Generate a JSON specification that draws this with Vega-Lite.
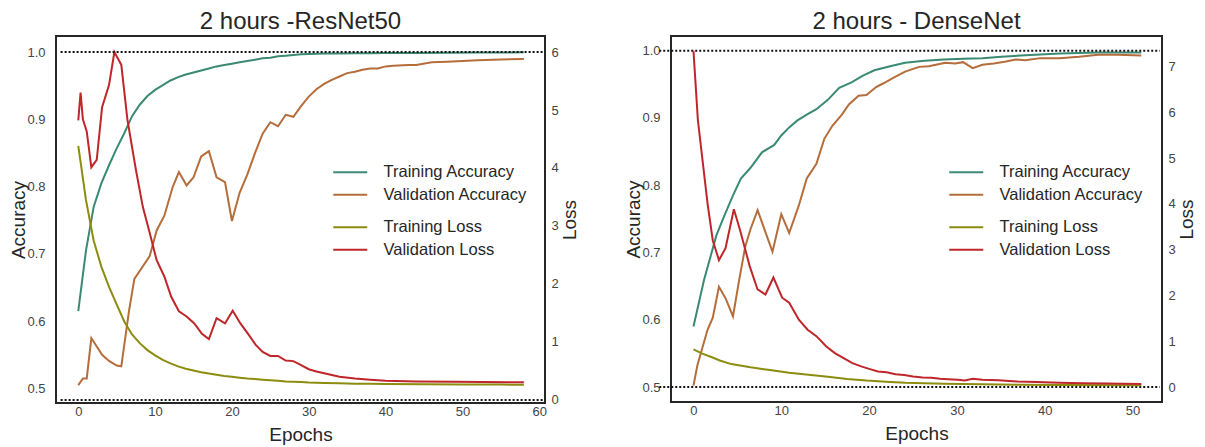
{
  "$schema": "https://vega.github.io/schema/vega-lite/v6.json",
  "background": "white",
  "padding": {"left": 8, "top": 9, "right": 0, "bottom": 0},
  "bounds": "flush",
  "spacing": 126,
  "config": {
    "font": "Liberation Sans",
    "view": {"stroke": "#262626", "strokeWidth": 2},
    "axis": {"ticks": false, "domain": false, "grid": false, "labelFont": "Liberation Sans", "labelFontSize": 13, "labelColor": "#444444", "titleFont": "Liberation Sans", "titleFontSize": 19, "titleFontWeight": "normal", "titleColor": "#262626"},
    "title": {"font": "Liberation Sans", "fontSize": 24, "fontWeight": "normal", "color": "#262626", "anchor": "middle", "offset": 2, "baseline": "alphabetic"},
    "legend": {"orient": "none", "title": null, "symbolType": "M-3.4,0H3.4", "symbolSize": 100, "symbolStrokeWidth": 2, "labelOffset": 25, "labelFontSize": 16.5, "labelFont": "Liberation Sans", "labelColor": "#262626", "rowPadding": 5.5, "padding": 0, "labelLimit": 300}
  },
  "datasets": {
    "resnet": [
      {"epoch": 0, "series": "Training Accuracy", "metric": "acc", "value": 0.615},
      {"epoch": 1, "series": "Training Accuracy", "metric": "acc", "value": 0.705},
      {"epoch": 2, "series": "Training Accuracy", "metric": "acc", "value": 0.77},
      {"epoch": 3, "series": "Training Accuracy", "metric": "acc", "value": 0.805},
      {"epoch": 4, "series": "Training Accuracy", "metric": "acc", "value": 0.832},
      {"epoch": 5, "series": "Training Accuracy", "metric": "acc", "value": 0.857},
      {"epoch": 6, "series": "Training Accuracy", "metric": "acc", "value": 0.88},
      {"epoch": 7, "series": "Training Accuracy", "metric": "acc", "value": 0.905},
      {"epoch": 8, "series": "Training Accuracy", "metric": "acc", "value": 0.922},
      {"epoch": 9, "series": "Training Accuracy", "metric": "acc", "value": 0.935},
      {"epoch": 10, "series": "Training Accuracy", "metric": "acc", "value": 0.944},
      {"epoch": 11, "series": "Training Accuracy", "metric": "acc", "value": 0.951},
      {"epoch": 12, "series": "Training Accuracy", "metric": "acc", "value": 0.958},
      {"epoch": 13, "series": "Training Accuracy", "metric": "acc", "value": 0.963},
      {"epoch": 14, "series": "Training Accuracy", "metric": "acc", "value": 0.967},
      {"epoch": 15, "series": "Training Accuracy", "metric": "acc", "value": 0.97},
      {"epoch": 16, "series": "Training Accuracy", "metric": "acc", "value": 0.973},
      {"epoch": 17, "series": "Training Accuracy", "metric": "acc", "value": 0.976},
      {"epoch": 18, "series": "Training Accuracy", "metric": "acc", "value": 0.979},
      {"epoch": 19, "series": "Training Accuracy", "metric": "acc", "value": 0.981},
      {"epoch": 20, "series": "Training Accuracy", "metric": "acc", "value": 0.983},
      {"epoch": 21, "series": "Training Accuracy", "metric": "acc", "value": 0.985},
      {"epoch": 22, "series": "Training Accuracy", "metric": "acc", "value": 0.987},
      {"epoch": 23, "series": "Training Accuracy", "metric": "acc", "value": 0.989},
      {"epoch": 24, "series": "Training Accuracy", "metric": "acc", "value": 0.991},
      {"epoch": 25, "series": "Training Accuracy", "metric": "acc", "value": 0.992},
      {"epoch": 26, "series": "Training Accuracy", "metric": "acc", "value": 0.994},
      {"epoch": 27, "series": "Training Accuracy", "metric": "acc", "value": 0.995},
      {"epoch": 28, "series": "Training Accuracy", "metric": "acc", "value": 0.996},
      {"epoch": 29, "series": "Training Accuracy", "metric": "acc", "value": 0.997},
      {"epoch": 30, "series": "Training Accuracy", "metric": "acc", "value": 0.9975},
      {"epoch": 32, "series": "Training Accuracy", "metric": "acc", "value": 0.998},
      {"epoch": 34, "series": "Training Accuracy", "metric": "acc", "value": 0.998},
      {"epoch": 36, "series": "Training Accuracy", "metric": "acc", "value": 0.9985},
      {"epoch": 38, "series": "Training Accuracy", "metric": "acc", "value": 0.9985},
      {"epoch": 40, "series": "Training Accuracy", "metric": "acc", "value": 0.999},
      {"epoch": 44, "series": "Training Accuracy", "metric": "acc", "value": 0.999},
      {"epoch": 48, "series": "Training Accuracy", "metric": "acc", "value": 0.9992},
      {"epoch": 52, "series": "Training Accuracy", "metric": "acc", "value": 0.9995},
      {"epoch": 56, "series": "Training Accuracy", "metric": "acc", "value": 0.9998},
      {"epoch": 58, "series": "Training Accuracy", "metric": "acc", "value": 1.0},

      {"epoch": 0, "series": "Validation Accuracy", "metric": "acc", "value": 0.505},
      {"epoch": 0.6, "series": "Validation Accuracy", "metric": "acc", "value": 0.515},
      {"epoch": 1.1, "series": "Validation Accuracy", "metric": "acc", "value": 0.515},
      {"epoch": 1.7, "series": "Validation Accuracy", "metric": "acc", "value": 0.575},
      {"epoch": 3.1, "series": "Validation Accuracy", "metric": "acc", "value": 0.55},
      {"epoch": 4.0, "series": "Validation Accuracy", "metric": "acc", "value": 0.541},
      {"epoch": 5.0, "series": "Validation Accuracy", "metric": "acc", "value": 0.534},
      {"epoch": 5.6, "series": "Validation Accuracy", "metric": "acc", "value": 0.533},
      {"epoch": 6.6, "series": "Validation Accuracy", "metric": "acc", "value": 0.615},
      {"epoch": 7.3, "series": "Validation Accuracy", "metric": "acc", "value": 0.663},
      {"epoch": 8.3, "series": "Validation Accuracy", "metric": "acc", "value": 0.68},
      {"epoch": 9.3, "series": "Validation Accuracy", "metric": "acc", "value": 0.697},
      {"epoch": 10.2, "series": "Validation Accuracy", "metric": "acc", "value": 0.735},
      {"epoch": 11.2, "series": "Validation Accuracy", "metric": "acc", "value": 0.757},
      {"epoch": 12.3, "series": "Validation Accuracy", "metric": "acc", "value": 0.8},
      {"epoch": 13.1, "series": "Validation Accuracy", "metric": "acc", "value": 0.822},
      {"epoch": 14.1, "series": "Validation Accuracy", "metric": "acc", "value": 0.802},
      {"epoch": 15, "series": "Validation Accuracy", "metric": "acc", "value": 0.814},
      {"epoch": 16, "series": "Validation Accuracy", "metric": "acc", "value": 0.845},
      {"epoch": 17, "series": "Validation Accuracy", "metric": "acc", "value": 0.853},
      {"epoch": 18, "series": "Validation Accuracy", "metric": "acc", "value": 0.814},
      {"epoch": 19.1, "series": "Validation Accuracy", "metric": "acc", "value": 0.807},
      {"epoch": 20, "series": "Validation Accuracy", "metric": "acc", "value": 0.749},
      {"epoch": 21, "series": "Validation Accuracy", "metric": "acc", "value": 0.791},
      {"epoch": 22, "series": "Validation Accuracy", "metric": "acc", "value": 0.818},
      {"epoch": 23, "series": "Validation Accuracy", "metric": "acc", "value": 0.85},
      {"epoch": 24, "series": "Validation Accuracy", "metric": "acc", "value": 0.879},
      {"epoch": 25, "series": "Validation Accuracy", "metric": "acc", "value": 0.896},
      {"epoch": 26, "series": "Validation Accuracy", "metric": "acc", "value": 0.89},
      {"epoch": 27, "series": "Validation Accuracy", "metric": "acc", "value": 0.907},
      {"epoch": 28, "series": "Validation Accuracy", "metric": "acc", "value": 0.904},
      {"epoch": 29, "series": "Validation Accuracy", "metric": "acc", "value": 0.92},
      {"epoch": 30, "series": "Validation Accuracy", "metric": "acc", "value": 0.934},
      {"epoch": 31, "series": "Validation Accuracy", "metric": "acc", "value": 0.945},
      {"epoch": 32, "series": "Validation Accuracy", "metric": "acc", "value": 0.953},
      {"epoch": 33, "series": "Validation Accuracy", "metric": "acc", "value": 0.959},
      {"epoch": 34, "series": "Validation Accuracy", "metric": "acc", "value": 0.964},
      {"epoch": 35, "series": "Validation Accuracy", "metric": "acc", "value": 0.969},
      {"epoch": 36, "series": "Validation Accuracy", "metric": "acc", "value": 0.971},
      {"epoch": 37, "series": "Validation Accuracy", "metric": "acc", "value": 0.974},
      {"epoch": 38, "series": "Validation Accuracy", "metric": "acc", "value": 0.976},
      {"epoch": 39, "series": "Validation Accuracy", "metric": "acc", "value": 0.976},
      {"epoch": 40, "series": "Validation Accuracy", "metric": "acc", "value": 0.979},
      {"epoch": 41, "series": "Validation Accuracy", "metric": "acc", "value": 0.98},
      {"epoch": 43, "series": "Validation Accuracy", "metric": "acc", "value": 0.981},
      {"epoch": 44, "series": "Validation Accuracy", "metric": "acc", "value": 0.981},
      {"epoch": 46, "series": "Validation Accuracy", "metric": "acc", "value": 0.985},
      {"epoch": 48, "series": "Validation Accuracy", "metric": "acc", "value": 0.986},
      {"epoch": 50, "series": "Validation Accuracy", "metric": "acc", "value": 0.987},
      {"epoch": 52, "series": "Validation Accuracy", "metric": "acc", "value": 0.988},
      {"epoch": 54, "series": "Validation Accuracy", "metric": "acc", "value": 0.989},
      {"epoch": 58, "series": "Validation Accuracy", "metric": "acc", "value": 0.99},

      {"epoch": 0, "series": "Training Loss", "metric": "loss", "value": 4.38},
      {"epoch": 1, "series": "Training Loss", "metric": "loss", "value": 3.45},
      {"epoch": 2, "series": "Training Loss", "metric": "loss", "value": 2.75},
      {"epoch": 3, "series": "Training Loss", "metric": "loss", "value": 2.3},
      {"epoch": 4, "series": "Training Loss", "metric": "loss", "value": 1.95},
      {"epoch": 5, "series": "Training Loss", "metric": "loss", "value": 1.65},
      {"epoch": 6, "series": "Training Loss", "metric": "loss", "value": 1.35},
      {"epoch": 7, "series": "Training Loss", "metric": "loss", "value": 1.13},
      {"epoch": 8, "series": "Training Loss", "metric": "loss", "value": 0.98},
      {"epoch": 9, "series": "Training Loss", "metric": "loss", "value": 0.86},
      {"epoch": 10, "series": "Training Loss", "metric": "loss", "value": 0.77},
      {"epoch": 11, "series": "Training Loss", "metric": "loss", "value": 0.69},
      {"epoch": 12, "series": "Training Loss", "metric": "loss", "value": 0.63},
      {"epoch": 13, "series": "Training Loss", "metric": "loss", "value": 0.58},
      {"epoch": 14, "series": "Training Loss", "metric": "loss", "value": 0.54},
      {"epoch": 15, "series": "Training Loss", "metric": "loss", "value": 0.51},
      {"epoch": 16, "series": "Training Loss", "metric": "loss", "value": 0.48},
      {"epoch": 17, "series": "Training Loss", "metric": "loss", "value": 0.455},
      {"epoch": 18, "series": "Training Loss", "metric": "loss", "value": 0.435},
      {"epoch": 19, "series": "Training Loss", "metric": "loss", "value": 0.415},
      {"epoch": 20, "series": "Training Loss", "metric": "loss", "value": 0.4},
      {"epoch": 21, "series": "Training Loss", "metric": "loss", "value": 0.385},
      {"epoch": 22, "series": "Training Loss", "metric": "loss", "value": 0.37},
      {"epoch": 23, "series": "Training Loss", "metric": "loss", "value": 0.36},
      {"epoch": 24, "series": "Training Loss", "metric": "loss", "value": 0.35},
      {"epoch": 25, "series": "Training Loss", "metric": "loss", "value": 0.34},
      {"epoch": 26, "series": "Training Loss", "metric": "loss", "value": 0.33},
      {"epoch": 27, "series": "Training Loss", "metric": "loss", "value": 0.32},
      {"epoch": 28, "series": "Training Loss", "metric": "loss", "value": 0.315},
      {"epoch": 29, "series": "Training Loss", "metric": "loss", "value": 0.308},
      {"epoch": 30, "series": "Training Loss", "metric": "loss", "value": 0.3},
      {"epoch": 32, "series": "Training Loss", "metric": "loss", "value": 0.293},
      {"epoch": 34, "series": "Training Loss", "metric": "loss", "value": 0.287},
      {"epoch": 36, "series": "Training Loss", "metric": "loss", "value": 0.282},
      {"epoch": 38, "series": "Training Loss", "metric": "loss", "value": 0.278},
      {"epoch": 40, "series": "Training Loss", "metric": "loss", "value": 0.275},
      {"epoch": 45, "series": "Training Loss", "metric": "loss", "value": 0.27},
      {"epoch": 50, "series": "Training Loss", "metric": "loss", "value": 0.267},
      {"epoch": 55, "series": "Training Loss", "metric": "loss", "value": 0.265},
      {"epoch": 58, "series": "Training Loss", "metric": "loss", "value": 0.264},

      {"epoch": 0, "series": "Validation Loss", "metric": "loss", "value": 4.82},
      {"epoch": 0.3, "series": "Validation Loss", "metric": "loss", "value": 5.3},
      {"epoch": 0.6, "series": "Validation Loss", "metric": "loss", "value": 4.84},
      {"epoch": 1.1, "series": "Validation Loss", "metric": "loss", "value": 4.63},
      {"epoch": 1.7, "series": "Validation Loss", "metric": "loss", "value": 4.01},
      {"epoch": 2.4, "series": "Validation Loss", "metric": "loss", "value": 4.14},
      {"epoch": 3.1, "series": "Validation Loss", "metric": "loss", "value": 5.05},
      {"epoch": 4.0, "series": "Validation Loss", "metric": "loss", "value": 5.43},
      {"epoch": 4.7, "series": "Validation Loss", "metric": "loss", "value": 6.0},
      {"epoch": 5.6, "series": "Validation Loss", "metric": "loss", "value": 5.78},
      {"epoch": 6.4, "series": "Validation Loss", "metric": "loss", "value": 4.83},
      {"epoch": 7.5, "series": "Validation Loss", "metric": "loss", "value": 3.97},
      {"epoch": 8.4, "series": "Validation Loss", "metric": "loss", "value": 3.33},
      {"epoch": 9.3, "series": "Validation Loss", "metric": "loss", "value": 2.88},
      {"epoch": 10.2, "series": "Validation Loss", "metric": "loss", "value": 2.41},
      {"epoch": 11.2, "series": "Validation Loss", "metric": "loss", "value": 2.13},
      {"epoch": 12.1, "series": "Validation Loss", "metric": "loss", "value": 1.78},
      {"epoch": 13.1, "series": "Validation Loss", "metric": "loss", "value": 1.53},
      {"epoch": 14.1, "series": "Validation Loss", "metric": "loss", "value": 1.44},
      {"epoch": 15.1, "series": "Validation Loss", "metric": "loss", "value": 1.32},
      {"epoch": 16.1, "series": "Validation Loss", "metric": "loss", "value": 1.14},
      {"epoch": 17, "series": "Validation Loss", "metric": "loss", "value": 1.05},
      {"epoch": 18, "series": "Validation Loss", "metric": "loss", "value": 1.41},
      {"epoch": 19.1, "series": "Validation Loss", "metric": "loss", "value": 1.32},
      {"epoch": 20.1, "series": "Validation Loss", "metric": "loss", "value": 1.54},
      {"epoch": 21.1, "series": "Validation Loss", "metric": "loss", "value": 1.32},
      {"epoch": 22.1, "series": "Validation Loss", "metric": "loss", "value": 1.14},
      {"epoch": 23.1, "series": "Validation Loss", "metric": "loss", "value": 0.95},
      {"epoch": 24, "series": "Validation Loss", "metric": "loss", "value": 0.83},
      {"epoch": 25, "series": "Validation Loss", "metric": "loss", "value": 0.76},
      {"epoch": 26, "series": "Validation Loss", "metric": "loss", "value": 0.76},
      {"epoch": 27, "series": "Validation Loss", "metric": "loss", "value": 0.68},
      {"epoch": 28, "series": "Validation Loss", "metric": "loss", "value": 0.67},
      {"epoch": 29, "series": "Validation Loss", "metric": "loss", "value": 0.6},
      {"epoch": 30, "series": "Validation Loss", "metric": "loss", "value": 0.53},
      {"epoch": 31, "series": "Validation Loss", "metric": "loss", "value": 0.49},
      {"epoch": 32, "series": "Validation Loss", "metric": "loss", "value": 0.46},
      {"epoch": 33, "series": "Validation Loss", "metric": "loss", "value": 0.43},
      {"epoch": 34, "series": "Validation Loss", "metric": "loss", "value": 0.4},
      {"epoch": 36, "series": "Validation Loss", "metric": "loss", "value": 0.37},
      {"epoch": 38, "series": "Validation Loss", "metric": "loss", "value": 0.35},
      {"epoch": 40, "series": "Validation Loss", "metric": "loss", "value": 0.33},
      {"epoch": 44, "series": "Validation Loss", "metric": "loss", "value": 0.32},
      {"epoch": 49, "series": "Validation Loss", "metric": "loss", "value": 0.315},
      {"epoch": 58, "series": "Validation Loss", "metric": "loss", "value": 0.305}
    ],
    "densenet": [
      {"epoch": 0, "series": "Training Accuracy", "metric": "acc", "value": 0.59},
      {"epoch": 1.2, "series": "Training Accuracy", "metric": "acc", "value": 0.659},
      {"epoch": 2.6, "series": "Training Accuracy", "metric": "acc", "value": 0.725},
      {"epoch": 3.4, "series": "Training Accuracy", "metric": "acc", "value": 0.751},
      {"epoch": 4.5, "series": "Training Accuracy", "metric": "acc", "value": 0.785},
      {"epoch": 5.4, "series": "Training Accuracy", "metric": "acc", "value": 0.81},
      {"epoch": 6.5, "series": "Training Accuracy", "metric": "acc", "value": 0.826},
      {"epoch": 7.8, "series": "Training Accuracy", "metric": "acc", "value": 0.849},
      {"epoch": 9.2, "series": "Training Accuracy", "metric": "acc", "value": 0.86},
      {"epoch": 10, "series": "Training Accuracy", "metric": "acc", "value": 0.874},
      {"epoch": 10.9, "series": "Training Accuracy", "metric": "acc", "value": 0.886},
      {"epoch": 11.8, "series": "Training Accuracy", "metric": "acc", "value": 0.896},
      {"epoch": 12.9, "series": "Training Accuracy", "metric": "acc", "value": 0.905},
      {"epoch": 14, "series": "Training Accuracy", "metric": "acc", "value": 0.913},
      {"epoch": 15.3, "series": "Training Accuracy", "metric": "acc", "value": 0.927},
      {"epoch": 16.6, "series": "Training Accuracy", "metric": "acc", "value": 0.945},
      {"epoch": 18, "series": "Training Accuracy", "metric": "acc", "value": 0.953},
      {"epoch": 19.3, "series": "Training Accuracy", "metric": "acc", "value": 0.963},
      {"epoch": 20.6, "series": "Training Accuracy", "metric": "acc", "value": 0.971},
      {"epoch": 22.4, "series": "Training Accuracy", "metric": "acc", "value": 0.977},
      {"epoch": 24.1, "series": "Training Accuracy", "metric": "acc", "value": 0.982},
      {"epoch": 26.3, "series": "Training Accuracy", "metric": "acc", "value": 0.985},
      {"epoch": 28.5, "series": "Training Accuracy", "metric": "acc", "value": 0.987},
      {"epoch": 30.7, "series": "Training Accuracy", "metric": "acc", "value": 0.988},
      {"epoch": 32.9, "series": "Training Accuracy", "metric": "acc", "value": 0.989},
      {"epoch": 35.1, "series": "Training Accuracy", "metric": "acc", "value": 0.991},
      {"epoch": 37.3, "series": "Training Accuracy", "metric": "acc", "value": 0.993},
      {"epoch": 41.7, "series": "Training Accuracy", "metric": "acc", "value": 0.996},
      {"epoch": 46.1, "series": "Training Accuracy", "metric": "acc", "value": 0.9975},
      {"epoch": 51, "series": "Training Accuracy", "metric": "acc", "value": 0.9975},

      {"epoch": 0, "series": "Validation Accuracy", "metric": "acc", "value": 0.502},
      {"epoch": 0.44, "series": "Validation Accuracy", "metric": "acc", "value": 0.532},
      {"epoch": 1.6, "series": "Validation Accuracy", "metric": "acc", "value": 0.585},
      {"epoch": 2.2, "series": "Validation Accuracy", "metric": "acc", "value": 0.603},
      {"epoch": 2.9, "series": "Validation Accuracy", "metric": "acc", "value": 0.649},
      {"epoch": 3.65, "series": "Validation Accuracy", "metric": "acc", "value": 0.632},
      {"epoch": 4.5, "series": "Validation Accuracy", "metric": "acc", "value": 0.605},
      {"epoch": 5.2, "series": "Validation Accuracy", "metric": "acc", "value": 0.659},
      {"epoch": 5.9, "series": "Validation Accuracy", "metric": "acc", "value": 0.709},
      {"epoch": 6.5, "series": "Validation Accuracy", "metric": "acc", "value": 0.735},
      {"epoch": 7.3, "series": "Validation Accuracy", "metric": "acc", "value": 0.763},
      {"epoch": 9.0, "series": "Validation Accuracy", "metric": "acc", "value": 0.701},
      {"epoch": 10.0, "series": "Validation Accuracy", "metric": "acc", "value": 0.757},
      {"epoch": 10.9, "series": "Validation Accuracy", "metric": "acc", "value": 0.729},
      {"epoch": 12, "series": "Validation Accuracy", "metric": "acc", "value": 0.77},
      {"epoch": 12.9, "series": "Validation Accuracy", "metric": "acc", "value": 0.81},
      {"epoch": 14, "series": "Validation Accuracy", "metric": "acc", "value": 0.832},
      {"epoch": 14.9, "series": "Validation Accuracy", "metric": "acc", "value": 0.869},
      {"epoch": 15.8, "series": "Validation Accuracy", "metric": "acc", "value": 0.888},
      {"epoch": 16.9, "series": "Validation Accuracy", "metric": "acc", "value": 0.905},
      {"epoch": 17.7, "series": "Validation Accuracy", "metric": "acc", "value": 0.92},
      {"epoch": 18.8, "series": "Validation Accuracy", "metric": "acc", "value": 0.933},
      {"epoch": 19.7, "series": "Validation Accuracy", "metric": "acc", "value": 0.934},
      {"epoch": 20.8, "series": "Validation Accuracy", "metric": "acc", "value": 0.946},
      {"epoch": 21.7, "series": "Validation Accuracy", "metric": "acc", "value": 0.952},
      {"epoch": 22.8, "series": "Validation Accuracy", "metric": "acc", "value": 0.96},
      {"epoch": 24.1, "series": "Validation Accuracy", "metric": "acc", "value": 0.969},
      {"epoch": 25.7, "series": "Validation Accuracy", "metric": "acc", "value": 0.976},
      {"epoch": 26.8, "series": "Validation Accuracy", "metric": "acc", "value": 0.977},
      {"epoch": 27.6, "series": "Validation Accuracy", "metric": "acc", "value": 0.979},
      {"epoch": 28.7, "series": "Validation Accuracy", "metric": "acc", "value": 0.982},
      {"epoch": 29.8, "series": "Validation Accuracy", "metric": "acc", "value": 0.981},
      {"epoch": 30.7, "series": "Validation Accuracy", "metric": "acc", "value": 0.983},
      {"epoch": 31.8, "series": "Validation Accuracy", "metric": "acc", "value": 0.974},
      {"epoch": 32.9, "series": "Validation Accuracy", "metric": "acc", "value": 0.979},
      {"epoch": 34.2, "series": "Validation Accuracy", "metric": "acc", "value": 0.981},
      {"epoch": 35.6, "series": "Validation Accuracy", "metric": "acc", "value": 0.984},
      {"epoch": 36.7, "series": "Validation Accuracy", "metric": "acc", "value": 0.987},
      {"epoch": 37.8, "series": "Validation Accuracy", "metric": "acc", "value": 0.986},
      {"epoch": 39.5, "series": "Validation Accuracy", "metric": "acc", "value": 0.989},
      {"epoch": 41.7, "series": "Validation Accuracy", "metric": "acc", "value": 0.989},
      {"epoch": 43.9, "series": "Validation Accuracy", "metric": "acc", "value": 0.991},
      {"epoch": 46.1, "series": "Validation Accuracy", "metric": "acc", "value": 0.994},
      {"epoch": 48.3, "series": "Validation Accuracy", "metric": "acc", "value": 0.994},
      {"epoch": 51, "series": "Validation Accuracy", "metric": "acc", "value": 0.993},

      {"epoch": 0, "series": "Training Loss", "metric": "loss", "value": 0.82},
      {"epoch": 1, "series": "Training Loss", "metric": "loss", "value": 0.73},
      {"epoch": 2.1, "series": "Training Loss", "metric": "loss", "value": 0.65},
      {"epoch": 3, "series": "Training Loss", "metric": "loss", "value": 0.58},
      {"epoch": 4.3, "series": "Training Loss", "metric": "loss", "value": 0.5},
      {"epoch": 6.5, "series": "Training Loss", "metric": "loss", "value": 0.43},
      {"epoch": 8.7, "series": "Training Loss", "metric": "loss", "value": 0.37},
      {"epoch": 10.9, "series": "Training Loss", "metric": "loss", "value": 0.31},
      {"epoch": 13.1, "series": "Training Loss", "metric": "loss", "value": 0.27},
      {"epoch": 15.3, "series": "Training Loss", "metric": "loss", "value": 0.225},
      {"epoch": 17.5, "series": "Training Loss", "metric": "loss", "value": 0.175},
      {"epoch": 19.7, "series": "Training Loss", "metric": "loss", "value": 0.14},
      {"epoch": 21.9, "series": "Training Loss", "metric": "loss", "value": 0.116},
      {"epoch": 24.1, "series": "Training Loss", "metric": "loss", "value": 0.095},
      {"epoch": 28.5, "series": "Training Loss", "metric": "loss", "value": 0.073},
      {"epoch": 32.9, "series": "Training Loss", "metric": "loss", "value": 0.058},
      {"epoch": 37.3, "series": "Training Loss", "metric": "loss", "value": 0.05},
      {"epoch": 41.7, "series": "Training Loss", "metric": "loss", "value": 0.044},
      {"epoch": 51, "series": "Training Loss", "metric": "loss", "value": 0.036},

      {"epoch": 0, "series": "Validation Loss", "metric": "loss", "value": 7.34},
      {"epoch": 0.5, "series": "Validation Loss", "metric": "loss", "value": 5.83},
      {"epoch": 1.6, "series": "Validation Loss", "metric": "loss", "value": 4.01},
      {"epoch": 2.2, "series": "Validation Loss", "metric": "loss", "value": 3.2},
      {"epoch": 2.9, "series": "Validation Loss", "metric": "loss", "value": 2.77},
      {"epoch": 3.65, "series": "Validation Loss", "metric": "loss", "value": 3.03},
      {"epoch": 4.6, "series": "Validation Loss", "metric": "loss", "value": 3.88},
      {"epoch": 5.3, "series": "Validation Loss", "metric": "loss", "value": 3.43},
      {"epoch": 6.4, "series": "Validation Loss", "metric": "loss", "value": 2.64},
      {"epoch": 7.3, "series": "Validation Loss", "metric": "loss", "value": 2.13},
      {"epoch": 8.2, "series": "Validation Loss", "metric": "loss", "value": 2.02},
      {"epoch": 9.1, "series": "Validation Loss", "metric": "loss", "value": 2.39},
      {"epoch": 10.1, "series": "Validation Loss", "metric": "loss", "value": 1.95},
      {"epoch": 10.9, "series": "Validation Loss", "metric": "loss", "value": 1.84},
      {"epoch": 12, "series": "Validation Loss", "metric": "loss", "value": 1.47},
      {"epoch": 13, "series": "Validation Loss", "metric": "loss", "value": 1.25},
      {"epoch": 14, "series": "Validation Loss", "metric": "loss", "value": 1.11},
      {"epoch": 15.1, "series": "Validation Loss", "metric": "loss", "value": 0.89},
      {"epoch": 16.1, "series": "Validation Loss", "metric": "loss", "value": 0.74},
      {"epoch": 17.1, "series": "Validation Loss", "metric": "loss", "value": 0.63},
      {"epoch": 18.1, "series": "Validation Loss", "metric": "loss", "value": 0.52},
      {"epoch": 19.1, "series": "Validation Loss", "metric": "loss", "value": 0.45},
      {"epoch": 20.1, "series": "Validation Loss", "metric": "loss", "value": 0.39},
      {"epoch": 21, "series": "Validation Loss", "metric": "loss", "value": 0.34},
      {"epoch": 22, "series": "Validation Loss", "metric": "loss", "value": 0.32},
      {"epoch": 23, "series": "Validation Loss", "metric": "loss", "value": 0.28},
      {"epoch": 24, "series": "Validation Loss", "metric": "loss", "value": 0.26},
      {"epoch": 25, "series": "Validation Loss", "metric": "loss", "value": 0.23},
      {"epoch": 26.1, "series": "Validation Loss", "metric": "loss", "value": 0.21},
      {"epoch": 27.1, "series": "Validation Loss", "metric": "loss", "value": 0.2},
      {"epoch": 28.1, "series": "Validation Loss", "metric": "loss", "value": 0.18},
      {"epoch": 29, "series": "Validation Loss", "metric": "loss", "value": 0.17},
      {"epoch": 30.1, "series": "Validation Loss", "metric": "loss", "value": 0.16},
      {"epoch": 30.9, "series": "Validation Loss", "metric": "loss", "value": 0.14},
      {"epoch": 31.8, "series": "Validation Loss", "metric": "loss", "value": 0.18},
      {"epoch": 32.9, "series": "Validation Loss", "metric": "loss", "value": 0.16},
      {"epoch": 34.7, "series": "Validation Loss", "metric": "loss", "value": 0.15},
      {"epoch": 36.9, "series": "Validation Loss", "metric": "loss", "value": 0.12},
      {"epoch": 39.1, "series": "Validation Loss", "metric": "loss", "value": 0.11},
      {"epoch": 41.7, "series": "Validation Loss", "metric": "loss", "value": 0.095},
      {"epoch": 44.4, "series": "Validation Loss", "metric": "loss", "value": 0.08},
      {"epoch": 47, "series": "Validation Loss", "metric": "loss", "value": 0.074},
      {"epoch": 51, "series": "Validation Loss", "metric": "loss", "value": 0.066}
    ],
    "refs_resnet": [
      {"epoch": -2.3, "epoch2": 60.6, "value": 6.0},
      {"epoch": -2.3, "epoch2": 60.6, "value": 0.0}
    ],
    "refs_densenet": [
      {"epoch": -3.9, "epoch2": 53.1, "value": 1.0},
      {"epoch": -3.9, "epoch2": 53.1, "value": 0.5}
    ]
  },
  "hconcat": [
    {
      "title": {"text": "2 hours -ResNet50"},
      "width": 489,
      "height": 367,
      "view": {"stroke": "#262626", "strokeWidth": 2},
      "layer": [
        {
          "data": {"name": "resnet"},
          "transform": [{"filter": "datum.metric == 'acc'"}],
          "mark": {"type": "line", "strokeWidth": 2},
          "encoding": {
            "x": {"field": "epoch", "type": "quantitative", "scale": {"domain": [-2.9, 60.75], "nice": false, "zero": false}, "axis": {"title": "Epochs", "values": [0, 10, 20, 30, 40, 50, 60], "labelPadding": 2, "titlePadding": 7, "labelAngle": 0}},
            "y": {"field": "value", "type": "quantitative", "scale": {"domain": [0.4784, 1.0242], "nice": false, "zero": false}, "axis": {"orient": "left", "title": "Accuracy", "values": [0.5, 0.6, 0.7, 0.8, 0.9, 1.0], "format": ".1f", "labelPadding": 11, "titlePadding": -2}},
            "color": {"field": "series", "type": "nominal", "scale": {"domain": ["Training Accuracy", "Validation Accuracy"], "range": ["#3a8a73", "#b46d3b"]}, "legend": {"legendX": 286, "legendY": 128}}
          }
        },
        {
          "layer": [
            {
              "data": {"name": "resnet"},
              "transform": [{"filter": "datum.metric == 'loss'"}],
              "mark": {"type": "line", "strokeWidth": 2},
              "encoding": {
                "x": {"field": "epoch", "type": "quantitative", "scale": {"domain": [-2.9, 60.75], "nice": false, "zero": false}, "axis": {"title": "Epochs", "values": [0, 10, 20, 30, 40, 50, 60], "labelPadding": 2, "titlePadding": 7, "labelAngle": 0}},
                "y": {"field": "value", "type": "quantitative", "scale": {"domain": [-0.052, 6.276], "nice": false, "zero": false}, "axis": {"orient": "right", "title": "Loss", "values": [0, 1, 2, 3, 4, 5, 6], "format": "d", "labelPadding": 6, "titlePadding": 2, "titleAngle": 270, "titleBaseline": "top"}},
                "stroke": {"field": "series", "type": "nominal", "scale": {"domain": ["Training Loss", "Validation Loss"], "range": ["#8c8c0f", "#bf2629"]}, "legend": {"legendX": 286, "legendY": 183}}
              }
            },
            {
              "data": {"name": "refs_resnet"},
              "mark": {"type": "rule", "color": "#111111", "strokeWidth": 2, "strokeDash": [2, 2]},
              "encoding": {
                "x": {"field": "epoch", "type": "quantitative", "scale": {"domain": [-2.9, 60.75], "nice": false, "zero": false}, "axis": {"title": "Epochs", "values": [0, 10, 20, 30, 40, 50, 60], "labelPadding": 2, "titlePadding": 7, "labelAngle": 0}},
                "x2": {"field": "epoch2"},
                "y": {"field": "value", "type": "quantitative", "scale": {"domain": [-0.052, 6.276], "nice": false, "zero": false}, "axis": {"orient": "right", "title": "Loss", "values": [0, 1, 2, 3, 4, 5, 6], "format": "d", "labelPadding": 6, "titlePadding": 2, "titleAngle": 270, "titleBaseline": "top"}}
              }
            }
          ]
        }
      ],
      "resolve": {"scale": {"y": "independent"}}
    },
    {
      "title": {"text": "2 hours - DenseNet"},
      "width": 491,
      "height": 366,
      "view": {"stroke": "#262626", "strokeWidth": 2},
      "layer": [
        {
          "layer": [
            {
              "data": {"name": "densenet"},
              "transform": [{"filter": "datum.metric == 'acc'"}],
              "mark": {"type": "line", "strokeWidth": 2},
              "encoding": {
                "x": {"field": "epoch", "type": "quantitative", "scale": {"domain": [-2.56, 53.36], "nice": false, "zero": false}, "axis": {"title": "Epochs", "values": [0, 10, 20, 30, 40, 50], "labelPadding": 2, "titlePadding": 7, "labelAngle": 0}},
                "y": {"field": "value", "type": "quantitative", "scale": {"domain": [0.4777, 1.0219], "nice": false, "zero": false}, "axis": {"orient": "left", "title": "Accuracy", "values": [0.5, 0.6, 0.7, 0.8, 0.9, 1.0], "format": ".1f", "labelPadding": 11, "titlePadding": -2}},
                "color": {"field": "series", "type": "nominal", "scale": {"domain": ["Training Accuracy", "Validation Accuracy"], "range": ["#3a8a73", "#b46d3b"]}, "legend": {"legendX": 287, "legendY": 128}}
              }
            },
            {
              "data": {"name": "refs_densenet"},
              "mark": {"type": "rule", "color": "#111111", "strokeWidth": 2, "strokeDash": [2, 2]},
              "encoding": {
                "x": {"field": "epoch", "type": "quantitative", "scale": {"domain": [-2.56, 53.36], "nice": false, "zero": false}, "axis": {"title": "Epochs", "values": [0, 10, 20, 30, 40, 50], "labelPadding": 2, "titlePadding": 7, "labelAngle": 0}},
                "x2": {"field": "epoch2"},
                "y": {"field": "value", "type": "quantitative", "scale": {"domain": [0.4777, 1.0219], "nice": false, "zero": false}, "axis": {"orient": "left", "title": "Accuracy", "values": [0.5, 0.6, 0.7, 0.8, 0.9, 1.0], "format": ".1f", "labelPadding": 11, "titlePadding": -2}}
              }
            }
          ]
        },
        {
          "data": {"name": "densenet"},
          "transform": [{"filter": "datum.metric == 'loss'"}],
          "mark": {"type": "line", "strokeWidth": 2},
          "encoding": {
            "x": {"field": "epoch", "type": "quantitative", "scale": {"domain": [-2.56, 53.36], "nice": false, "zero": false}, "axis": {"title": "Epochs", "values": [0, 10, 20, 30, 40, 50], "labelPadding": 2, "titlePadding": 7, "labelAngle": 0}},
            "y": {"field": "value", "type": "quantitative", "scale": {"domain": [-0.3275, 7.664], "nice": false, "zero": false}, "axis": {"orient": "right", "title": "Loss", "values": [0, 1, 2, 3, 4, 5, 6, 7], "format": "d", "labelPadding": 6, "titlePadding": 2, "titleAngle": 270, "titleBaseline": "top"}},
            "stroke": {"field": "series", "type": "nominal", "scale": {"domain": ["Training Loss", "Validation Loss"], "range": ["#8c8c0f", "#bf2629"]}, "legend": {"legendX": 287, "legendY": 183}}
          }
        }
      ],
      "resolve": {"scale": {"y": "independent"}}
    }
  ],
  "resolve": {"scale": {"color": "independent", "stroke": "independent", "x": "independent", "y": "independent"}, "legend": {"color": "independent", "stroke": "independent"}}
}
